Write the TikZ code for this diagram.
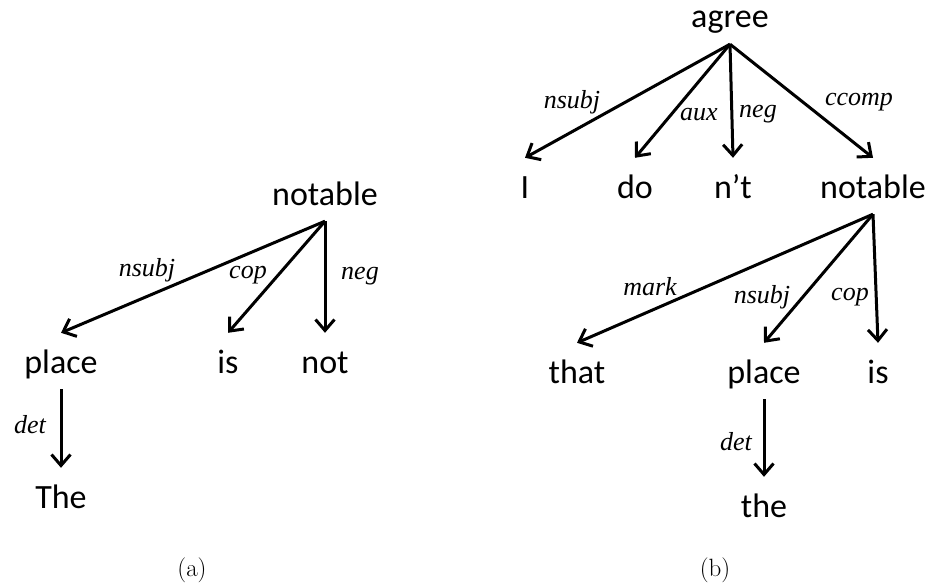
\documentclass[tikz,border=0pt]{standalone}
\usepackage{fontspec}
\newfontfamily\wordfont{Carlito}
\newfontfamily\relfont{Liberation Serif}
\usetikzlibrary{arrows.meta}
\tikzset{
  word/.style={font=\wordfont\fontsize{34}{40}\selectfont, anchor=base, inner xsep=0pt, inner ysep=16pt, text height=24pt, text depth=0pt},
  rel/.style={font=\relfont\itshape\fontsize{26}{30}\selectfont, inner sep=0pt},
  dep/.style={-{Straight Barb[length=11pt,width=19pt]}, line width=3pt},
  subcap/.style={font=\fontsize{25}{30}\selectfont, anchor=base}
}

\begin{document}
\begin{tikzpicture}[x=1pt,y=-1pt]
\useasboundingbox (0,0) rectangle (933,583);
% (a)
\node[word] (notA) at (325,205) {notable};
\node[word] (placeA) at (61,373) {place};
\node[word] (isA) at (228,373) {is};
\node[word] (notnegA) at (325,373) {not};
\node[word] (theA) at (61,508) {The};
\draw[dep] (notA.south) -- (placeA.north);
\draw[dep] (notA.south) -- (isA.north);
\draw[dep] (notA.south) -- (notnegA.north);
\draw[dep] (placeA.south) -- (theA.north);
\node[rel] (nsubjA) at (147,270) {nsubj};
\node[rel] (copA) at (248,275) {cop};
\node[rel] (negA) at (360,276) {neg};
\node[rel] (detA) at (30,425) {det};
\node[subcap] (capA) at (192,576) {(a)};
% (b)
\node[word] (agreeB) at (730,28) {agree};
\node[word] (iB) at (525,198) {I};
\node[word] (doB) at (635,198) {do};
\node[word] (ntB) at (733,198) {n’t};
\node[word] (notB) at (873,198) {notable};
\node[word] (thatB) at (577,383) {that};
\node[word] (placeB) at (764,383) {place};
\node[word] (isB) at (878,383) {is};
\node[word] (theB) at (764,517) {the};
\draw[dep] (agreeB.south) -- (iB.north);
\draw[dep] (agreeB.south) -- (doB.north);
\draw[dep] (agreeB.south) -- (ntB.north);
\draw[dep] (agreeB.south) -- (notB.north);
\draw[dep] (notB.south) -- (thatB.north);
\draw[dep] (notB.south) -- (placeB.north);
\draw[dep] (notB.south) -- (isB.north);
\draw[dep] (placeB.south) -- (theB.north);
\node[rel] (nsubjB) at (572,102) {nsubj};
\node[rel] (auxB) at (699,115) {aux};
\node[rel] (negB) at (758,114) {neg};
\node[rel] (ccompB) at (859,102) {ccomp};
\node[rel] (markB) at (650,287) {mark};
\node[rel] (nsubjBB) at (762,297) {nsubj};
\node[rel] (copB) at (850,297) {cop};
\node[rel] (detB) at (736,442) {det};
\node[subcap] (capB) at (715,576) {(b)};
\end{tikzpicture}
\end{document}
